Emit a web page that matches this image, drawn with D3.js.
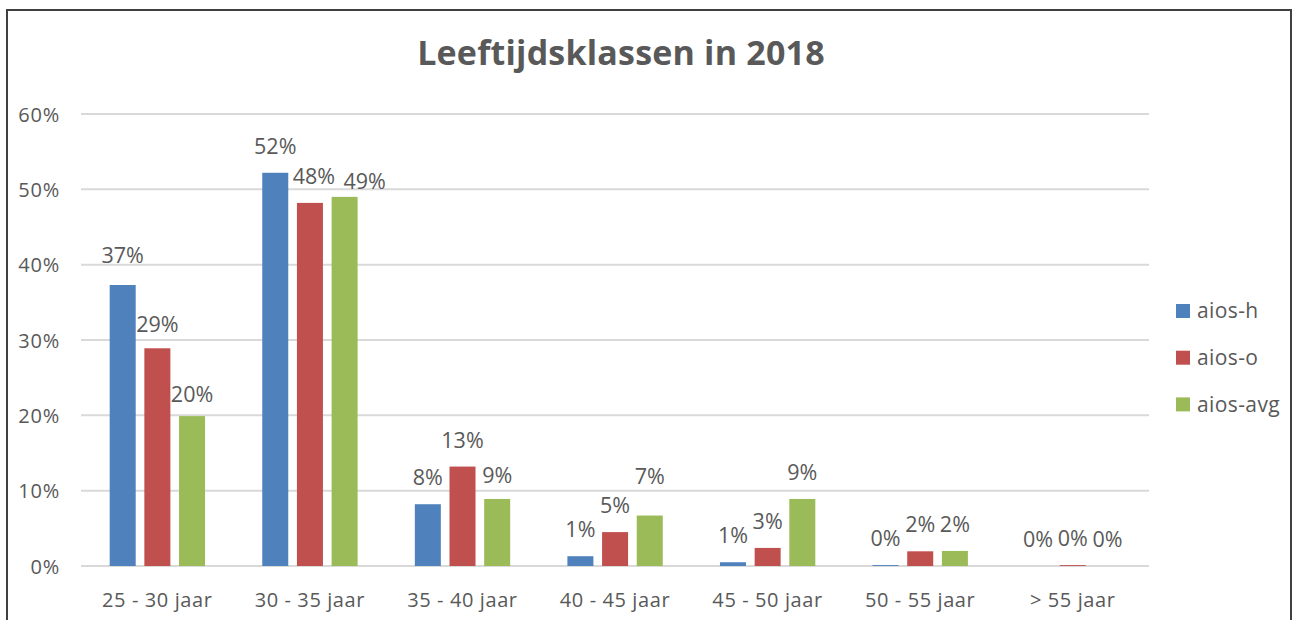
<!DOCTYPE html>
<html>
<head>
<meta charset="utf-8">
<script src="https://cdn.jsdelivr.net/npm/d3@7"></script>
<style>
  html, body { margin: 0; padding: 0; background: #fff; }
  svg { display: block; }
  text { font-family: "Open Sans", "Noto Sans", sans-serif; fill: #595959; }
</style>
</head>
<body>
<svg id="chart" width="1293" height="620"></svg>
<script>
const title = "Leeftijdsklassen in 2018";
const categories = ["25 - 30 jaar", "30 - 35 jaar", "35 - 40 jaar", "40 - 45 jaar", "45 - 50 jaar", "50 - 55 jaar", "> 55 jaar"];
const seriesNames = ["aios-h", "aios-o", "aios-avg"];
const aiosH   = [37.3, 52.2, 8.2, 1.3, 0.5, 0.12, 0.0];
const aiosO   = [28.9, 48.2, 13.2, 4.5, 2.4, 1.95, 0.12];
const aiosAvg = [19.9, 49.0, 8.9, 6.7, 8.9, 2.0, 0.0];
const labelsH   = ["37%", "52%", "8%", "1%", "1%", "0%", "0%"];
const labelsO   = ["29%", "48%", "13%", "5%", "3%", "2%", "0%"];
const labelsAvg = ["20%", "49%", "9%", "7%", "9%", "2%", "0%"];
const yTicks = [0, 10, 20, 30, 40, 50, 60];
const colors = ["#4F81BD", "#C0504D", "#9BBB59"];

const seriesValues = [aiosH, aiosO, aiosAvg];
const seriesLabels = [labelsH, labelsO, labelsAvg];

// label collision nudges (as placed by the original chart tool)
const labelNudge = {
  "25 - 30 jaar|aios-h": [0, -3],
  "25 - 30 jaar|aios-o": [0, 3],
  "25 - 30 jaar|aios-avg": [0, 5],
  "30 - 35 jaar|aios-o": [4, 0],
  "30 - 35 jaar|aios-avg": [20, 11],
  "35 - 40 jaar|aios-avg": [0, 3],
  "40 - 45 jaar|aios-avg": [0, -13]
};

const svg = d3.select("#chart");

// outer frame
svg.append("rect")
  .attr("x", 7).attr("y", 10).attr("width", 1284).attr("height", 640)
  .attr("fill", "none").attr("stroke", "#404040").attr("stroke-width", 2);

// title
svg.append("text")
  .attr("x", 621).attr("y", 65)
  .attr("text-anchor", "middle")
  .attr("font-size", 34).attr("font-weight", 700)
  .style("letter-spacing", "0.2px")
  .text(title);

const plot = { left: 81, right: 1149, top: 114, bottom: 566 };

const x0 = d3.scaleBand().domain(categories).range([plot.left, plot.right]).padding(0);
const x1 = d3.scaleBand().domain(seriesNames)
  .range([x0.bandwidth() * 0.188, x0.bandwidth() * 0.813]).paddingInner(0.25);
const y = d3.scaleLinear().domain([0, 60]).range([plot.bottom, plot.top]);

// gridlines
svg.append("g").selectAll("line").data(yTicks).join("line")
  .attr("x1", plot.left).attr("x2", plot.right)
  .attr("y1", d => y(d)).attr("y2", d => y(d))
  .attr("stroke", "#D9D9D9").attr("stroke-width", 2);

// y axis labels
const yAxis = d3.axisLeft(y).tickValues(yTicks).tickFormat(d => d + "%").tickSize(0).tickPadding(0);
const yg = svg.append("g").attr("transform", `translate(60,0)`).call(yAxis);
yg.select(".domain").remove();
yg.selectAll("text")
  .attr("font-size", 20).attr("fill", "#595959")
  .attr("font-family", "Open Sans")
  .attr("dy", "0.35em")
  .style("letter-spacing", "0.8px");

// x axis labels
const xAxis = d3.axisBottom(x0).tickSize(0).tickPadding(0);
const xg = svg.append("g").attr("transform", `translate(0,${plot.bottom})`).call(xAxis);
xg.select(".domain").remove();
xg.selectAll("text")
  .attr("font-size", 20).attr("fill", "#595959")
  .attr("font-family", "Open Sans")
  .attr("y", 41).attr("dy", 0)
  .style("letter-spacing", "0.6px");

// bars
const data = [];
categories.forEach((c, i) => {
  seriesNames.forEach((s, j) => {
    data.push({ cat: c, ser: s, v: seriesValues[j][i], label: seriesLabels[j][i], color: colors[j] });
  });
});

svg.append("g").selectAll("rect").data(data).join("rect")
  .attr("x", d => x0(d.cat) + x1(d.ser))
  .attr("width", x1.bandwidth())
  .attr("y", d => y(d.v))
  .attr("height", d => y(0) - y(d.v))
  .attr("fill", d => d.color);

// data labels
const nudge = d => labelNudge[d.cat + "|" + d.ser] || [0, 0];
svg.append("g").selectAll("text").data(data).join("text")
  .attr("x", d => x0(d.cat) + x1(d.ser) + x1.bandwidth() / 2 + nudge(d)[0])
  .attr("y", d => y(d.v) - 19 + nudge(d)[1])
  .attr("text-anchor", "middle")
  .attr("font-size", 21.5)
  .text(d => d.label);

// legend
const lg = svg.append("g").attr("transform", "translate(1176,304)");
const li = lg.selectAll("g").data(seriesNames).join("g")
  .attr("transform", (d, i) => `translate(0,${i * 46.7})`);
li.append("rect").attr("width", 14).attr("height", 14).attr("fill", (d, i) => colors[i]);
li.append("text").attr("x", 21).attr("y", 7).attr("dy", "0.35em")
  .attr("font-size", 21).style("letter-spacing", "0.4px").text(d => d);
</script>
</body>
</html>
